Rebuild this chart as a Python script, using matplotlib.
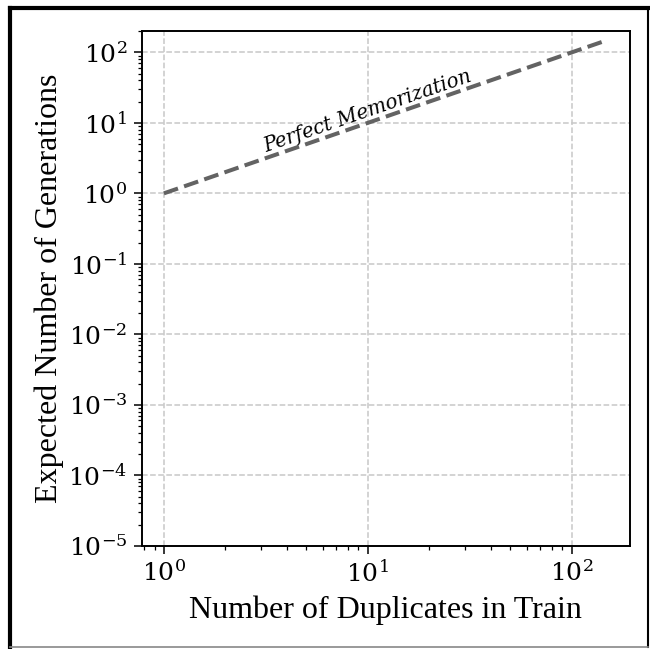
import matplotlib.pyplot as plt
from matplotlib.lines import Line2D

# ---------- data ----------
duplicates = [1, 150]
expected_generations = [1, 150]
line_label = "Perfect Memorization"
x_label = "Number of Duplicates in Train"
y_label = "Expected Number of Generations"

plt.rcParams["mathtext.fontset"] = "dejavuserif"
plt.rcParams["font.family"] = "DejaVu Serif"

fig = plt.figure(figsize=(6.5, 6.49), dpi=100)
ax = fig.add_axes([0.218, 0.159, 0.751, 0.793])

ax.plot(duplicates, expected_generations, ls="--", color="#636363", lw=2.9)
ax.set_xscale("log")
ax.set_yscale("log")
ax.set_ylim(1e-5, 2e2)

ax.grid(True, which="major", ls="--", color="#c8c8c8", lw=1.1)
ax.tick_params(labelsize=18, length=5.5, width=1.1, pad=5)
ax.tick_params(which="minor", length=3, width=0.9)
for s in ax.spines.values():
    s.set_linewidth(1.4)

ax.set_xlabel(x_label, family="Liberation Serif", fontsize=23, labelpad=6)
ax.set_ylabel(y_label, family="Liberation Serif", fontsize=23, labelpad=3)

ax.text(10, 14.5, line_label, rotation=19, ha="center", va="center",
        style="italic", fontsize=14.3)

# screenshot frame
fig.add_artist(Line2D([10 / 650, 10 / 650], [0.003, 1 - 8 / 649], color="black",
                      lw=3, transform=fig.transFigure))
fig.add_artist(Line2D([10 / 650, 648 / 650], [1 - 8 / 649, 1 - 8 / 649], color="black",
                      lw=3, transform=fig.transFigure))
fig.add_artist(Line2D([648 / 650, 648 / 650], [0.003, 1 - 8 / 649], color="black",
                      lw=1.5, transform=fig.transFigure))
fig.add_artist(Line2D([10 / 650, 648 / 650], [0.003, 0.003], color="#888888",
                      lw=1.2, transform=fig.transFigure))

fig.savefig("out.png", dpi=100)
